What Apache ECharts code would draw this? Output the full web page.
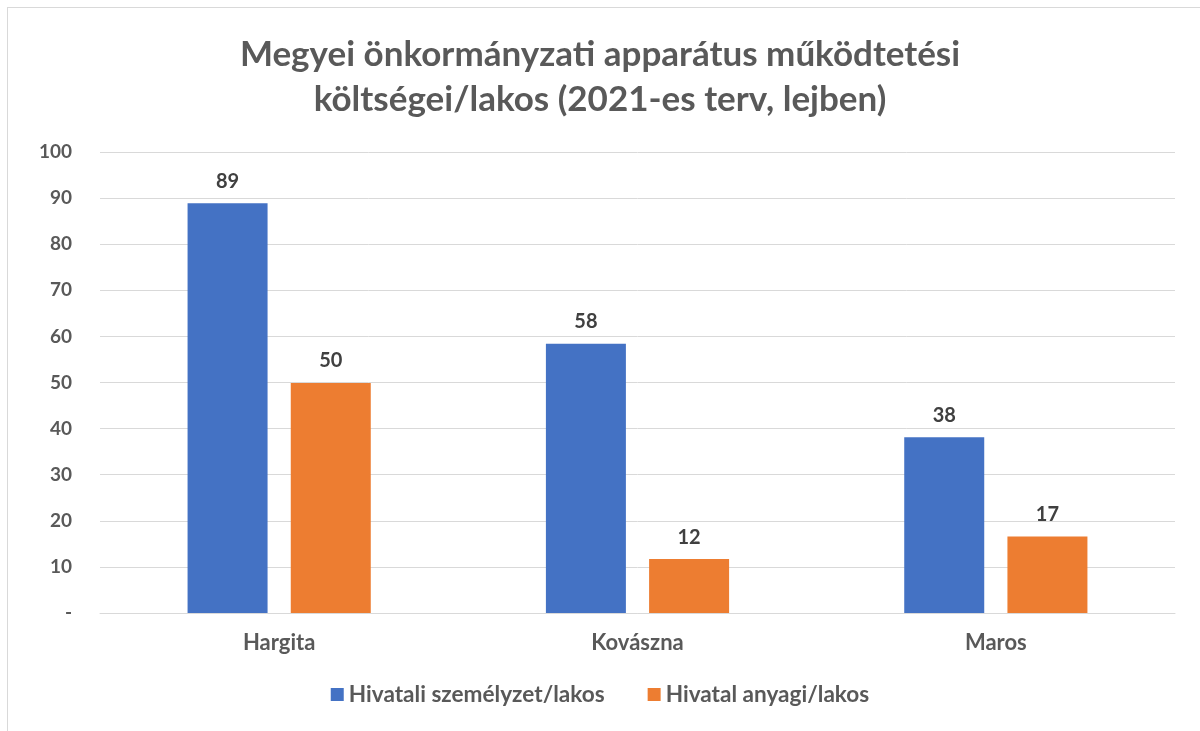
<!DOCTYPE html>
<html>
<head>
<meta charset="utf-8">
<script src="https://cdn.jsdelivr.net/npm/echarts@6/dist/echarts.min.js"></script>
<style>
  html, body { margin: 0; padding: 0; background: #fff; }
  #frame {
    position: absolute; left: 7px; top: 7px; width: 1200px; height: 740px;
    border: 1px solid #d9d9d9; box-sizing: border-box;
  }
  #chart { position: absolute; left: 0; top: 0; width: 1200px; height: 731px; }
</style>
</head>
<body>
<div id="frame"></div>
<div id="chart"></div>
<script>
  const categories = ["Hargita", "Kovászna", "Maros"];
  const seriesNames = ["Hivatali személyzet/lakos", "Hivatal anyagi/lakos"];
  const personnel = [88.9, 58.4, 38.1];
  const material = [49.9, 11.7, 16.6];

  const font = "Lato, 'Open Sans', sans-serif";
  const chart = echarts.init(document.getElementById("chart"));

  const labelStyle = {
    show: true,
    position: "top",
    distance: 12,
    color: "#404040",
    fontSize: 20,
    fontWeight: "bold",
    fontFamily: font,
    formatter: (p) => Math.round(p.value),
  };

  chart.setOption({
    animation: false,
    color: ["#4472C4", "#ED7D31"],
    title: {
      text: "Megyei önkormányzati apparátus működtetési\nköltségei/lakos (2021-es terv, lejben)",
      left: "center",
      top: 27,
      textStyle: {
        color: "#595959",
        fontSize: 35,
        fontWeight: "bold",
        fontFamily: font,
        lineHeight: 45,
      },
    },
    legend: {
      bottom: 20,
      left: "center",
      itemWidth: 13,
      itemHeight: 13,
      itemGap: 43,
      icon: "rect",
      textStyle: {
        color: "#595959",
        fontSize: 22.6,
        fontWeight: "bold",
        fontFamily: font,
      },
      data: seriesNames,
    },
    grid: { left: 100, right: 25, top: 152, bottom: 118, containLabel: false },
    xAxis: {
      type: "category",
      data: categories,
      axisLine: { lineStyle: { color: "#d9d9d9", width: 1 } },
      axisTick: { show: false },
      axisLabel: {
        color: "#595959",
        fontSize: 22,
        fontWeight: "bold",
        fontFamily: font,
        margin: 19,
      },
    },
    yAxis: {
      type: "value",
      min: 0,
      max: 100,
      interval: 10,
      axisLine: { show: false },
      axisTick: { show: false },
      splitLine: { lineStyle: { color: "#d9d9d9", width: 1 } },
      axisLabel: {
        color: "#595959",
        fontSize: 19,
        fontWeight: "bold",
        fontFamily: font,
        margin: 28,
        formatter: (v) => (v === 0 ? "-" : v),
      },
    },
    series: [
      {
        name: seriesNames[0],
        type: "bar",
        data: personnel,
        barWidth: 80,
        barGap: "29%",
        label: labelStyle,
      },
      {
        name: seriesNames[1],
        type: "bar",
        data: material,
        barWidth: 80,
        barGap: "29%",
        label: labelStyle,
      },
    ],
  });
</script>
</body>
</html>
